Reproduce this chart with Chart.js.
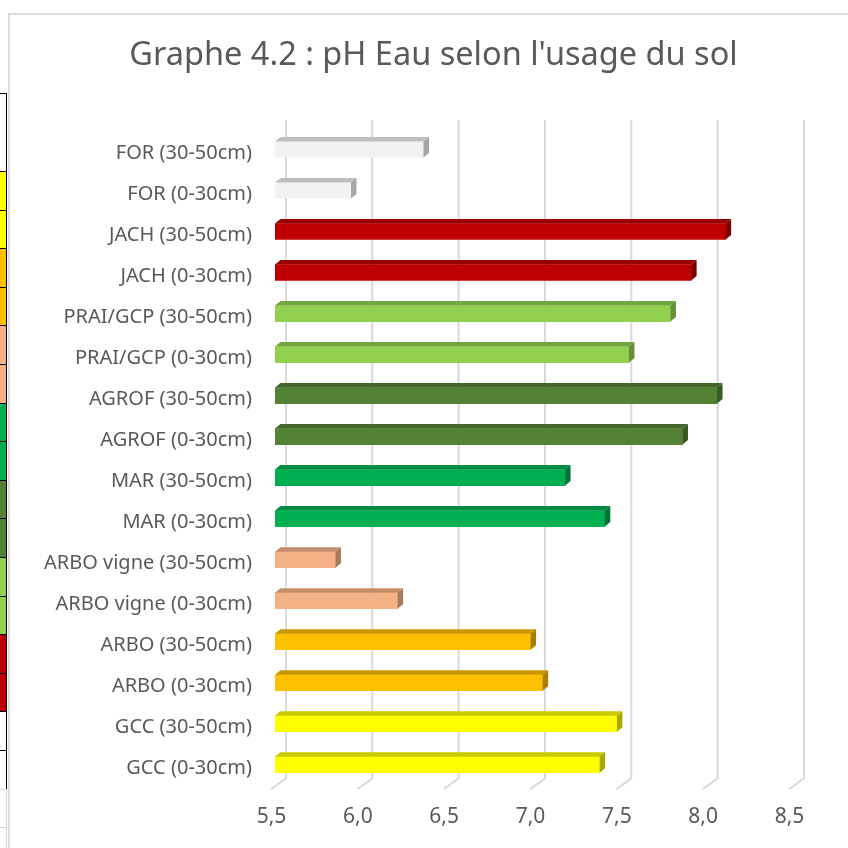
<!DOCTYPE html>
<html>
<head>
<meta charset="utf-8">
<script src="https://cdn.jsdelivr.net/npm/chart.js@4.4.1/dist/chart.umd.min.js"></script>
<style>
    html, body { margin: 0; padding: 0; background: #fff; }
    #wrap { position: relative; width: 848px; height: 848px; overflow: hidden; }
    #frame { position: absolute; left: 8px; top: 13px; width: 900px; height: 900px; border-left: 2px solid #dcdcdc; border-top: 2px solid #dcdcdc; }
    .cell { position: absolute; left: 0; width: 6px; border-right: 1.5px solid #000; border-top: 1.5px solid #000; }
    canvas { position: absolute; left: 0; top: 0; }
</style>
</head>
<body>
<div id="wrap">
    <div id="sheet"></div>
    <div id="frame"></div>
    <canvas id="phChart" width="848" height="848"></canvas>
</div>
<script>
    const titleText = "Graphe 4.2 : pH Eau selon l'usage du sol";
    const labels = [
        'FOR (30-50cm)', 'FOR (0-30cm)',
        'JACH (30-50cm)', 'JACH (0-30cm)',
        'PRAI/GCP (30-50cm)', 'PRAI/GCP (0-30cm)',
        'AGROF (30-50cm)', 'AGROF (0-30cm)',
        'MAR (30-50cm)', 'MAR (0-30cm)',
        'ARBO vigne (30-50cm)', 'ARBO vigne (0-30cm)',
        'ARBO (30-50cm)', 'ARBO (0-30cm)',
        'GCC (30-50cm)', 'GCC (0-30cm)'
    ];
    const phValues = [6.36, 5.94, 8.11, 7.91, 7.79, 7.55, 8.06, 7.86, 7.18, 7.41, 5.85, 6.21, 6.98, 7.05, 7.48, 7.38];
    const xTicks = [5.5, 6.0, 6.5, 7.0, 7.5, 8.0, 8.5];

    const frontColors = ['#f2f2f2', '#f2f2f2', '#c00000', '#c00000', '#92d050', '#92d050', '#548235', '#548235',
        '#00b050', '#00b050', '#f4b183', '#f4b183', '#ffc000', '#ffc000', '#ffff00', '#ffff00'];
    const topColors = ['#bfbfbf', '#bfbfbf', '#990000', '#990000', '#74a63f', '#74a63f', '#43682a', '#43682a',
        '#008c40', '#008c40', '#c38e69', '#c38e69', '#c99700', '#c99700', '#c9c900', '#c9c900'];
    const sideColors = ['#a6a6a6', '#a6a6a6', '#800000', '#800000', '#668f37', '#668f37', '#3a5a24', '#3a5a24',
        '#007434', '#007434', '#a8795a', '#a8795a', '#a87e00', '#a87e00', '#a8a800', '#a8a800'];

    // spreadsheet strip visible on the left edge
    const sheetColors = ['#ffff00', '#ffff00', '#ffc000', '#ffc000', '#f4b183', '#f4b183', '#00b050', '#00b050',
        '#548235', '#548235', '#92d050', '#92d050', '#c00000', '#c00000', '#ffffff', '#ffffff'];
    (function buildSheet() {
        const sheet = document.getElementById('sheet');
        const add = (top, h, bg, border) => {
            const d = document.createElement('div');
            d.className = 'cell';
            d.style.top = top + 'px';
            d.style.height = h + 'px';
            d.style.background = bg;
            if (border) { d.style.borderTopColor = border; d.style.borderRightColor = border; }
            sheet.appendChild(d);
        };
        add(93, 78, '#fff');
        sheetColors.forEach((c, i) => add(171 + i * 38.6, 38.6, c));
        add(789, 38, '#fff', '#d4d4d4');
        add(827, 40, '#fff', '#d4d4d4');
    })();

    const DX = 5.5, DY = -4.5;

    const gridPlugin = {
        id: 'backWallGrid',
        beforeDatasetsDraw(chart) {
            const ctx = chart.ctx, area = chart.chartArea, xs = chart.scales.x;
            ctx.save();
            ctx.strokeStyle = '#d9d9d9';
            ctx.lineWidth = 2;
            xTicks.forEach(v => {
                const px = xs.getPixelForValue(v);
                ctx.beginPath();
                ctx.moveTo(px - 4, area.bottom + 4);
                ctx.lineTo(px + 11, area.bottom - 7);
                ctx.lineTo(px + 11, area.top - 9);
                ctx.stroke();
            });
            ctx.restore();
        }
    };

    const bar3dPlugin = {
        id: 'bar3d',
        afterDatasetsDraw(chart) {
            const ctx = chart.ctx;
            const meta = chart.getDatasetMeta(0);
            ctx.save();
            meta.data.forEach((el, i) => {
                const { x, y, base, height } = el.getProps(['x', 'y', 'base', 'height'], true);
                const top = y - height / 2, bottom = y + height / 2;
                ctx.fillStyle = topColors[i];
                ctx.beginPath();
                ctx.moveTo(base, top);
                ctx.lineTo(base + DX, top + DY);
                ctx.lineTo(x + DX, top + DY);
                ctx.lineTo(x, top);
                ctx.closePath();
                ctx.fill();
                ctx.fillStyle = sideColors[i];
                ctx.beginPath();
                ctx.moveTo(x, top);
                ctx.lineTo(x + DX, top + DY);
                ctx.lineTo(x + DX, bottom + DY);
                ctx.lineTo(x, bottom);
                ctx.closePath();
                ctx.fill();
            });
            ctx.restore();
        }
    };

    const titlePlugin = {
        id: 'customTitle',
        afterDraw(chart) {
            const ctx = chart.ctx;
            ctx.save();
            ctx.fillStyle = '#595959';
            ctx.font = '32.5px "Noto Sans"';
            ctx.textAlign = 'center';
            ctx.textBaseline = 'middle';
            ctx.fillText(titleText, 433.5, 56);
            ctx.restore();
        }
    };

    new Chart(document.getElementById('phChart').getContext('2d'), {
        type: 'bar',
        data: {
            labels: labels,
            datasets: [{
                label: 'pH Eau',
                data: phValues,
                base: xTicks[0],
                backgroundColor: frontColors,
                borderWidth: 0,
                barThickness: 16
            }]
        },
        options: {
            indexAxis: 'y',
            responsive: false,
            animation: false,
            layout: { padding: { left: 0, right: 55, top: 129, bottom: 0 } },
            plugins: {
                legend: { display: false },
                tooltip: { enabled: false },
                title: { display: false }
            },
            scales: {
                x: {
                    min: xTicks[0],
                    max: xTicks[xTicks.length - 1],
                    afterBuildTicks: scale => { scale.ticks = xTicks.map(v => ({ value: v })); },
                    afterFit: scale => { scale.height = 62.8; },
                    grid: { display: false, drawTicks: false },
                    border: { display: false },
                    ticks: {
                        color: '#595959',
                        font: { family: 'Noto Sans', size: 21 },
                        padding: 19,
                        labelOffset: -3.5,
                        maxRotation: 0,
                        callback: v => Number(v).toFixed(1).replace('.', ',')
                    }
                },
                y: {
                    afterFit: scale => { scale.width = 275; },
                    grid: { display: false, drawTicks: false },
                    border: { display: false },
                    ticks: {
                        color: '#595959',
                        font: { family: 'Noto Sans', size: 20 },
                        padding: 23,
                        labelOffset: 4,
                        autoSkip: false
                    }
                }
            }
        },
        plugins: [gridPlugin, bar3dPlugin, titlePlugin]
    });
</script>
</body>
</html>
